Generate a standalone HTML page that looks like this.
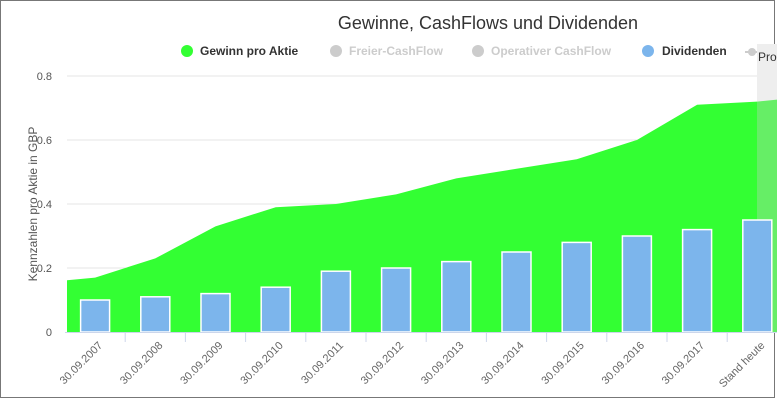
<!DOCTYPE html>
<html><head><meta charset="utf-8"><style>
body{margin:0;background:#fff;font-family:"Liberation Sans",sans-serif}
svg{display:block}
</style></head><body>
<svg id="chart" width="777" height="400">
<rect x="0.5" y="0.5" width="774" height="397" fill="#fff" stroke="#777"/>
<text x="488" y="29" font-size="18" fill="#333" text-anchor="middle">Gewinne, CashFlows und Dividenden</text>
<g font-size="12" font-weight="bold">
<g><circle cx="187" cy="51" r="6" fill="#33ff33"/><text x="200" y="55" fill="#333">Gewinn pro Aktie</text></g>
<g><circle cx="336" cy="51" r="6" fill="#ccc"/><text x="349" y="55" fill="#ccc">Freier-CashFlow</text></g>
<g><circle cx="478" cy="51" r="6" fill="#ccc"/><text x="491" y="55" fill="#ccc">Operativer CashFlow</text></g>
<g><circle cx="648" cy="51" r="6" fill="#7cb5ec"/><text x="662" y="55" fill="#333">Dividenden</text></g>
<g><line x1="745" y1="52" x2="760" y2="52" stroke="#ccc" stroke-width="2"/><circle cx="752" cy="52" r="4" fill="#ccc"/></g>
</g>
<text transform="translate(37,204) rotate(-90)" font-size="12" fill="#555" text-anchor="middle">Kennzahlen pro Aktie in GBP</text>
<g id="plot"></g>
</svg>
<script>
const categories=["30.09.2007","30.09.2008","30.09.2009","30.09.2010","30.09.2011","30.09.2012","30.09.2013","30.09.2014","30.09.2015","30.09.2016","30.09.2017","Stand heute"];
const gewinn=[0.17,0.23,0.33,0.39,0.40,0.43,0.48,0.51,0.54,0.60,0.71,0.72];
const dividenden=[0.10,0.11,0.12,0.14,0.19,0.20,0.22,0.25,0.28,0.30,0.32,0.35];
const yTicks=[0,0.2,0.4,0.6,0.8];
const yTickLabels=["0","0.2","0.4","0.6","0.8"];
const NS="http://www.w3.org/2000/svg";
const g=document.getElementById('plot');
const x0=65,cw=60.2,y0=332,ys=320,right=777;
const xc=i=>x0+cw*(i+0.5);
const y=v=>y0-v*ys;
function mk(t,a){const e=document.createElementNS(NS,t);for(const k in a)e.setAttribute(k,a[k]);g.appendChild(e);return e;}
yTicks.forEach((v,i)=>{
 const l=mk('line',{x1:x0+2,x2:right,y1:y(v),y2:y(v),stroke:'#e6e6e6'});
 
 
 const t=mk('text',{x:52,y:y(v)+4,'font-size':11,fill:'#555','text-anchor':'end'});
 t.textContent=yTickLabels[i];
 
 
});
const band=mk('rect',{x:757,y:44,width:20,height:288,fill:'#eee'});


const bt=mk('text',{x:758,y:61,'font-size':12,fill:'#333'});bt.textContent='Prognose';


// area
const n=gewinn.length;
const leftV=gewinn[0]-(gewinn[1]-gewinn[0])*((xc(0)-67)/cw)*0.3;
let d=`M67,${y0} L67,${y(leftV)}`;
gewinn.forEach((v,i)=>d+=` L${xc(i)},${y(v)}`);
d+=` L${right},${y(gewinn[n-1]+(gewinn[n-1]-gewinn[n-2])*0.6)} L${right},${y0} Z`;
const cp=document.createElementNS(NS,'clipPath');cp.id='c1';const cr=document.createElementNS(NS,'rect');cr.setAttribute('x',67);cr.setAttribute('y',0);cr.setAttribute('width',690);cr.setAttribute('height',400);cp.appendChild(cr);g.appendChild(cp);
const cp2=document.createElementNS(NS,'clipPath');cp2.id='c2';const cr2=document.createElementNS(NS,'rect');cr2.setAttribute('x',757);cr2.setAttribute('y',0);cr2.setAttribute('width',20);cr2.setAttribute('height',400);cp2.appendChild(cr2);g.appendChild(cp2);
const a=mk('path',{d:d,fill:'#33ff33','clip-path':'url(#c1)'});


const a2=mk('path',{d:d,fill:'#66ee66','clip-path':'url(#c2)'});


dividenden.forEach((v,i)=>{
 const r=mk('rect',{x:xc(i)-14.5,y:y(v),width:29,height:v*ys,fill:'#7cb5ec',stroke:'#fff','stroke-width':1.5});
 
 
});
const ax=mk('line',{x1:x0,x2:right,y1:y0+0.5,y2:y0+0.5,stroke:'#ccd6eb'});


categories.forEach((c,i)=>{
 const tx=x0+cw*(i+1);
 const tk=mk('line',{x1:tx,x2:tx,y1:y0,y2:y0+10,stroke:'#ccd6eb'});
 
 
 const t=mk('text',{transform:`translate(${xc(i)+8},${y0+14}) rotate(-45)`,'font-size':11,fill:'#666','text-anchor':'end'});
 t.textContent=c;
 
 
});
</script>
</body></html>
